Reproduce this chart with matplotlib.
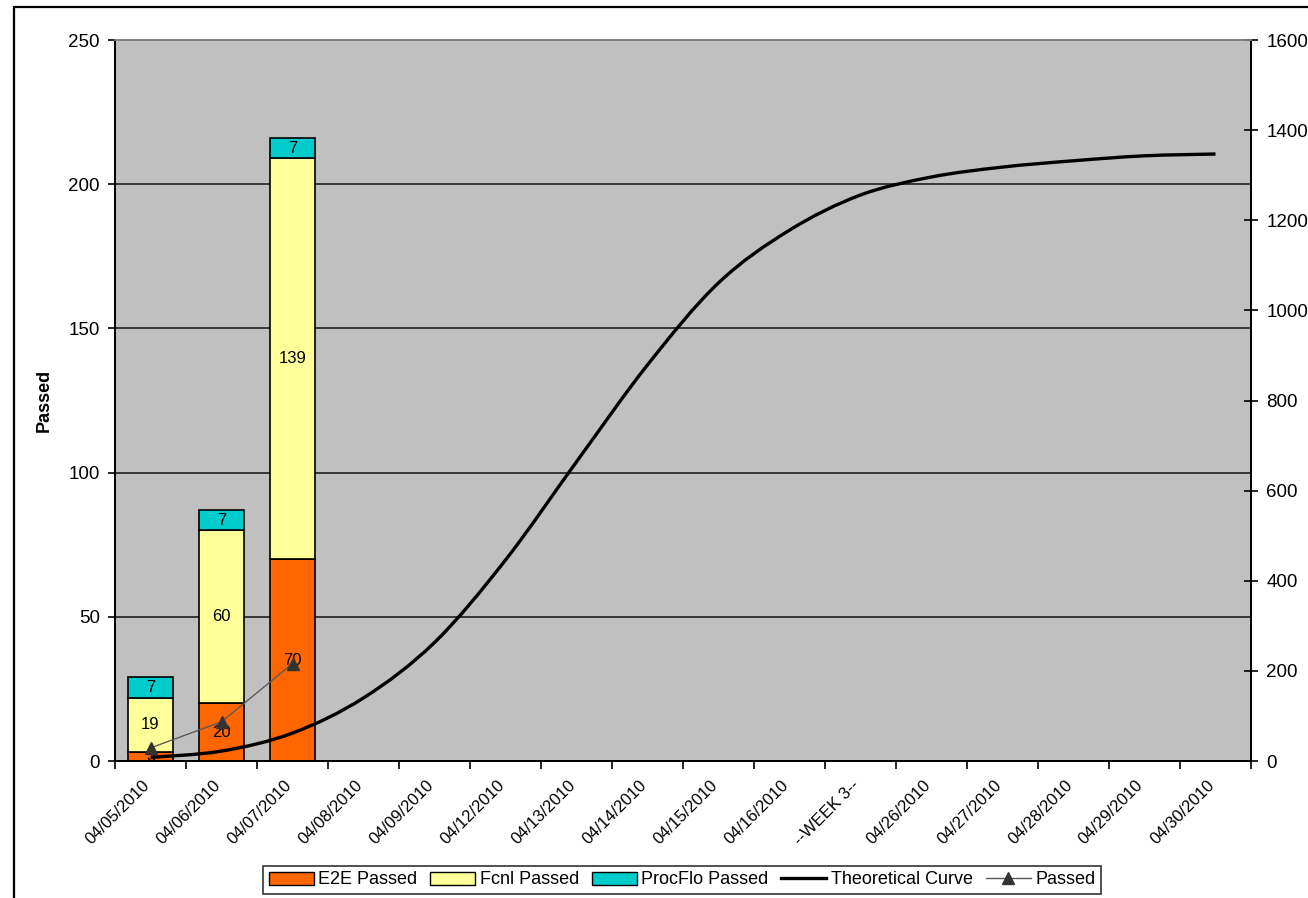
import numpy as np
import matplotlib
matplotlib.use("Agg")
import matplotlib.pyplot as plt
import matplotlib.transforms as mtransforms
from matplotlib.patches import Patch, Rectangle, PathPatch
from matplotlib.lines import Line2D
from matplotlib.path import Path

plt.rcParams['font.family'] = ['Liberation Sans', 'DejaVu Sans']

dates = ["04/05/2010", "04/06/2010", "04/07/2010", "04/08/2010", "04/09/2010",
         "04/12/2010", "04/13/2010", "04/14/2010", "04/15/2010", "04/16/2010",
         "--WEEK 3--", "04/26/2010", "04/27/2010", "04/28/2010", "04/29/2010",
         "04/30/2010"]

e2e_passed = [3, 20, 70]
fcnl_passed = [19, 60, 139]
procflo_passed = [7, 7, 7]

# cumulative passed (right axis)
passed_total = [29, 87, 216]

theoretical = [8, 22, 62, 140, 263, 446, 664, 879, 1061, 1178, 1256, 1296,
               1318, 1332, 1343, 1347]

C_E2E = "#FF6600"
C_FCNL = "#FFFF99"
C_PROC = "#00CCCC"

fig = plt.figure(figsize=(13.08, 8.98), dpi=100)
ax = fig.add_axes([115 / 1308, 1 - 761 / 898, (1251 - 115) / 1308, (761 - 40) / 898])
ax2 = ax.twinx()

ax.set_facecolor("#C0C0C0")
ax.set_axisbelow(True)
ax.yaxis.grid(True, color="#2b2b2b", linewidth=1.3)

n = len(dates)
x = np.arange(n)
nb = len(e2e_passed)
xb = x[:nb]
w = 0.64
bot2 = np.array(e2e_passed)
bot3 = bot2 + np.array(fcnl_passed)
b1 = ax.bar(xb, e2e_passed, w, color=C_E2E, edgecolor="black", linewidth=1.2, zorder=2)
b2 = ax.bar(xb, fcnl_passed, w, bottom=bot2, color=C_FCNL, edgecolor="black", linewidth=1.2, zorder=2)
b3 = ax.bar(xb, procflo_passed, w, bottom=bot3, color=C_PROC, edgecolor="black", linewidth=1.2, zorder=2)
for c in (b1, b2, b3):
    ax.bar_label(c, label_type="center", fontsize=12, color="black")

ax.set_xlim(-0.5, n - 0.5)
ax.set_ylim(0, 250)
ax.set_yticks(np.arange(0, 251, 50))
ax2.set_ylim(0, 1600)
ax2.set_yticks(np.arange(0, 1601, 200))

# smoothed theoretical curve drawn as a bezier path through the points
pts = np.column_stack([x, theoretical]).astype(float)
ext = np.vstack([pts[0], pts, pts[-1]])
verts = [pts[0]]
codes = [Path.MOVETO]
for i in range(n - 1):
    p0, p1, p2, p3 = ext[i], ext[i + 1], ext[i + 2], ext[i + 3]
    verts += [p1 + (p2 - p0) / 6, p2 - (p3 - p1) / 6, p2]
    codes += [Path.CURVE4] * 3
ax2.add_patch(PathPatch(Path(verts, codes), fill=False, edgecolor="black",
                        linewidth=2.4, zorder=3))

ax2.plot(xb, passed_total, color="#5a5a5a", linewidth=1, marker="^",
         markersize=8, markerfacecolor="#333333", markeredgecolor="#333333", zorder=4)

# axes styling
for a in (ax, ax2):
    a.spines["top"].set_color("#808080")
    a.spines["left"].set_color("black")
    a.spines["right"].set_color("black")
    a.spines["bottom"].set_color("black")
    for s in a.spines.values():
        s.set_linewidth(1.3)
ax.tick_params(axis="y", direction="out", length=5, width=1.2, labelsize=13.5, pad=6)
ax2.tick_params(axis="y", direction="inout", length=10, width=1.2, labelsize=13.5, pad=6)

ax.set_xticks(np.arange(-0.5, n, 1.0))
ax.set_xticklabels([])
ax.tick_params(axis="x", which="major", direction="out", length=6, width=1.2)
ax.set_xticks(x, minor=True)
ax.set_xticklabels(dates, minor=True, rotation=45, ha="right", va="top",
                   rotation_mode="anchor", fontsize=12)
ax.tick_params(axis="x", which="minor", length=0, pad=12)
shift = mtransforms.ScaledTranslation(-9 / 100, 0, fig.dpi_scale_trans)
for lab in ax.get_xticklabels(minor=True):
    lab.set_transform(lab.get_transform() + shift)

ax.set_ylabel("Passed", fontsize=13, fontweight="bold")
ax.yaxis.set_label_coords(-0.0546, 0.5)

handles = [
    Patch(facecolor=C_E2E, edgecolor="black", label="E2E Passed"),
    Patch(facecolor=C_FCNL, edgecolor="black", label="Fcnl Passed"),
    Patch(facecolor=C_PROC, edgecolor="black", label="ProcFlo Passed"),
    Line2D([], [], color="black", linewidth=2.4, label="Theoretical Curve"),
    Line2D([], [], color="#5a5a5a", linewidth=1, marker="^", markersize=8,
           markerfacecolor="#333333", markeredgecolor="#333333", label="Passed"),
]
leg = fig.legend(handles=handles, loc="center", bbox_to_anchor=(682 / 1308, 1 - 880 / 898),
                 ncol=5, fontsize=13, frameon=True, fancybox=False,
                 edgecolor="black", handlelength=2.5, handletextpad=0.25,
                 columnspacing=0.7, borderpad=0.3)
leg.get_frame().set_linewidth(1.2)

# chart area border
fig.add_artist(Rectangle((14 / 1308, -0.1), 1.2, 1 - 7 / 898 + 0.1,
                         transform=fig.transFigure, fill=False,
                         edgecolor="black", linewidth=1.6))

fig.savefig("out.png", dpi=100)
